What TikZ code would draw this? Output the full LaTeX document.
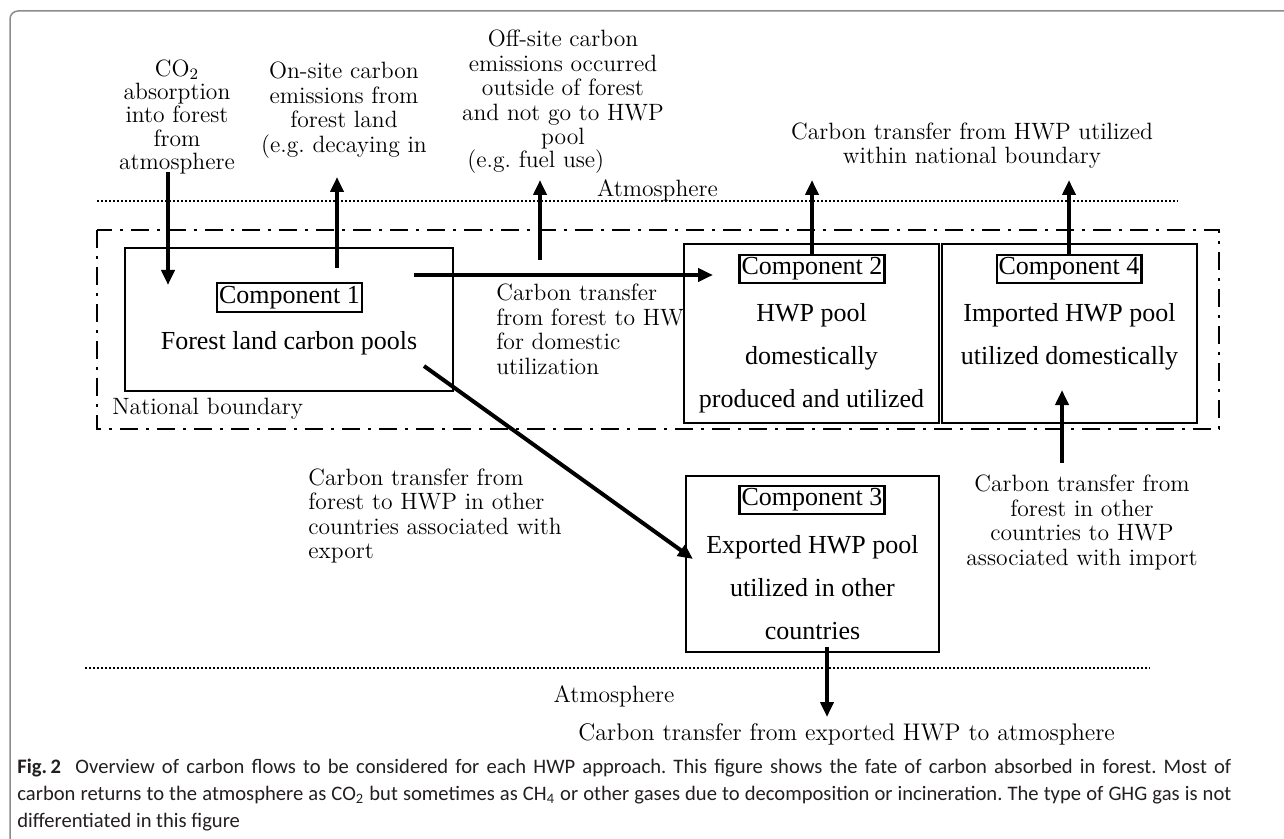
\documentclass[tikz,border=0pt]{standalone}
\usepackage{fontspec}
\usepackage{tikz}
\usetikzlibrary{arrows.meta,positioning}
\newfontfamily\boxfont{Liberation Serif}
\newfontfamily\capfont{Carlito}
\definecolor{framegray}{gray}{0.55}
\definecolor{captext}{HTML}{231F20}
\frenchspacing
\tikzset{
    %Define standard arrow tip
    >={Triangle[length=7.5pt,width=6.5pt]},
    %Define style for pool boxes
    pool/.style={
           rectangle,
           draw=black, line width=0.75pt,
           fill=white,
           inner sep=0pt},
    complabel/.style={
           rectangle,
           draw=black, line width=1.1pt,
           fill=white,
           inner xsep=1pt, inner ysep=1.5pt,
           font=\boxfont\fontsize{13}{15}\selectfont},
    pooltext/.style={
           anchor=north,
           align=center,
           inner sep=0pt,
           font=\boxfont\fontsize{13}{21.5}\selectfont},
    note/.style={
           align=center,
           inner sep=0pt,
           font=\fontsize{11.8}{12.3}\selectfont},
    % Define arrow style
    flow/.style={
           ->,
           line width=2pt},
    atmos/.style={
           line width=1pt,
           dash pattern=on 0.8pt off 1.2pt},
    natborder/.style={
           line width=1pt,
           dash pattern=on 9pt off 4pt on 1.5pt off 4pt}
}
\begin{document}
\frenchspacing
\begin{tikzpicture}[x=0.5pt,y=-0.5pt]
\useasboundingbox (0,0) rectangle (1284,839);
\draw[framegray, line width=0.75pt, rounded corners=4pt] (10,11) rectangle (1300,855);

 %boundaries
\coordinate (atl) at (97,201);
\coordinate (atr) at (1178,201);
\coordinate (abl) at (85,668);
\coordinate (abr) at (1150,668);
\draw[atmos] (atl) -- (atr);
\draw[atmos] (abl) -- (abr);
\draw[natborder] (97,230) rectangle (1219,429);

 %texts
\node[note, anchor=north, font=\fontsize{11.8}{11.7}\selectfont] (absorb) at (177,59) {CO$_2$\\absorption\\into forest\\from\\atmosphere};
\node[note, anchor=north] (onsite) at (344,61.5) {On-site carbon\\emissions from\\forest land\\(e.g. decaying in};
\node[note, anchor=north] (offsite) at (563,29.5) {Off-site carbon\\emissions occurred\\outside of forest\\and not go to HWP\\pool};
\node[note, anchor=base west] (offsiteeg) at (467,168) {(e.g. fuel use)};
\node[note, anchor=north] (utilized) at (972,122) {Carbon transfer from HWP utilized\\within national boundary};
\node[note, anchor=base] (atmtop) at (657.5,197) {Atmosphere};
\node[note, anchor=north west, align=left] (domestic) at (496,283.5) {Carbon transfer\\from forest to HWP\\for domestic\\utilization};
\node[note, anchor=base west] (natlabel) at (112,415) {National boundary};
\node[note, anchor=north west, align=left] (export) at (308,468) {Carbon transfer from\\forest to HWP in other\\countries associated with\\export};
\node[note, anchor=north] (import) at (1082,474.5) {Carbon transfer from\\forest in other\\countries to HWP\\associated with import};
\node[note, anchor=base] (atmbot) at (614,702) {Atmosphere};
\node[note, anchor=base west, font=\fontsize{12}{12.3}\selectfont] (exportatm) at (578,740) {Carbon transfer from exported HWP to atmosphere};

 %pools
\node[pool, minimum width=164pt, minimum height=71.5pt] (c1) at (289,319.5) {};
\node[pool, minimum width=127.5pt, minimum height=89.5pt] (c2) at (811.5,333.5) {};
\node[pool, minimum width=127.5pt, minimum height=89.5pt] (c4) at (1069.5,333.5) {};
\node[pool, minimum width=126.5pt, minimum height=88pt] (c3) at (812.5,564) {};

\node[complabel] (c1lab) at (289.5,297.5) {Component 1};
\node[complabel] (c2lab) at (812,269) {Component 2};
\node[complabel] (c4lab) at (1069,269) {Component 4};
\node[complabel] (c3lab) at (812,500) {Component 3};

\node[pooltext] (c1text) at (289,331.2) {Forest land carbon pools};
\node[pooltext] (c2text) at (811.5,303.2) {HWP pool\\domestically\\produced and utilized};
\node[pooltext] (c4text) at (1069.5,303.2) {Imported HWP pool\\utilized domestically};
\node[pooltext] (c3text) at (812.5,535.2) {Exported HWP pool\\utilized in other\\countries};

 %flows
\coordinate (absorbtop) at (168,172);
\coordinate (absorbend) at (168,285);
\coordinate (onsitestart) at (337,268);
\coordinate (onsiteend) at (337,177);
\coordinate (offsitestart) at (540,260);
\coordinate (offsiteend) at (540,180);
\coordinate (hwpstart) at (414,275);
\coordinate (hwpend) at (713,275);
\coordinate (c2out) at (812,180);
\coordinate (c4out) at (1069,180);
\coordinate (exportstart) at (424,366);
\coordinate (exportend) at (693,559);
\coordinate (importstart) at (1062,463);
\coordinate (importend) at (1062,390);
\coordinate (c3start) at (827,647);
\coordinate (c3out) at (827,717);

\path
    (absorbtop) edge[flow] (absorbend)
    (onsitestart) edge[flow] (onsiteend)
    (offsitestart) edge[flow] (offsiteend)
    (hwpstart) edge[flow] (hwpend)
    (c2lab.north) edge[flow] (c2out)
    (c4lab.north) edge[flow] (c4out)
    (exportstart) edge[flow] (exportend)
    (importstart) edge[flow] (importend)
    (c3start) edge[flow] (c3out);

 %caption
\node[anchor=north west, align=left, inner sep=0pt, text=captext, font=\capfont\fontsize{10.3}{13.5}\selectfont] (caption) at (17,759)
{\makebox[607pt][s]{\textbf{Fig.\,2}\ \ Overview of carbon flows to be considered for each HWP approach. This figure shows the fate of carbon absorbed in forest. Most of}\\
\makebox[607pt][s]{carbon returns to the atmosphere as CO\textsubscript{2} but sometimes as CH\textsubscript{4} or other gases due to decomposition or incineration. The type of GHG gas is not}\\
differentiated in this figure};
\end{tikzpicture}
\end{document}
